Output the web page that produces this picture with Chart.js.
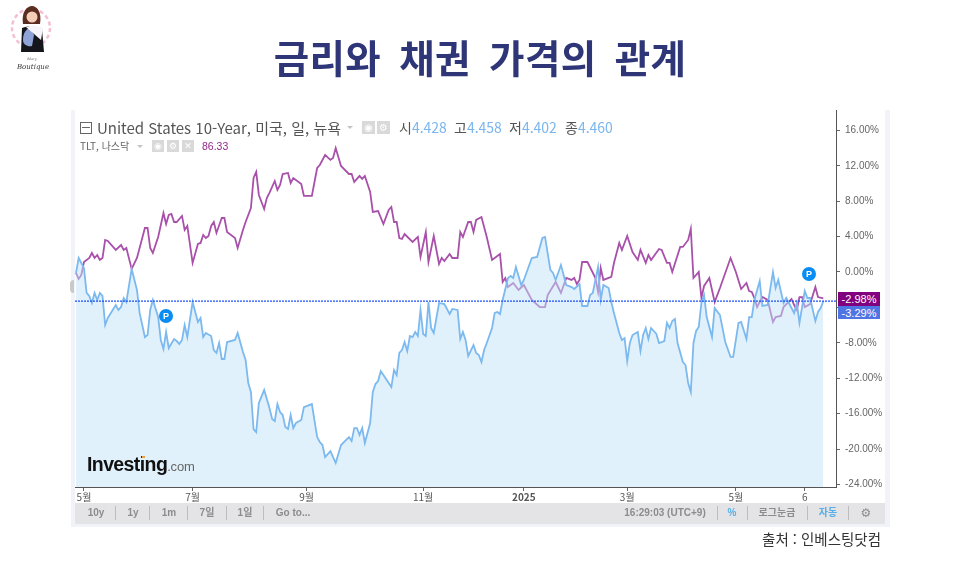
<!DOCTYPE html>
<html lang="ko">
<head>
<meta charset="utf-8">
<title>금리와 채권 가격의 관계</title>
<script src="https://cdn.jsdelivr.net/npm/chart.js@4"></script>
<style>
html,body{margin:0;padding:0;background:#fff;width:960px;height:580px;overflow:hidden;font-family:"Noto Sans CJK KR","Liberation Sans",sans-serif}
.a{position:absolute;white-space:nowrap}
#c{position:absolute;left:0;top:0}
.ico{position:absolute;background:#d9d9d9;color:#fff;text-align:center;font-family:"DejaVu Sans";line-height:1}
.tb{position:absolute;top:506px;font:bold 10px "Liberation Sans","Noto Sans CJK KR",sans-serif;color:#8c8c8c;line-height:14px;transform:translateX(-50%);white-space:nowrap}
.sp{position:absolute;top:506px;width:1px;height:14px;background:#bdbdbd}
</style>
</head>
<body>
<div class="a" style="left:71px;top:110px;width:819px;height:417px;background:#f2f3f8"></div>
<div class="a" style="left:75px;top:110px;width:810px;height:393px;background:#fff"></div>
<div class="a" style="left:75px;top:503px;width:810px;height:21px;background:#e4e4e6"></div>
<div class="a" style="left:70px;top:280px;width:4px;height:13px;background:#c9c9c9;border-radius:4px 0 0 4px"></div>
<canvas id="c" width="960" height="580"></canvas>

<div class="a" style="left:838px;top:488px;width:47px;height:15px;background:#fff"></div>

<div class="a" id="title" style="left:0;width:960px;top:27px;text-align:center;font-size:38.5px;font-weight:700;line-height:58px;color:#2f3678;word-spacing:7px;letter-spacing:.4px">금리와 채권 가격의 관계</div>

<svg class="a" style="left:6px;top:2px" width="52" height="72" viewBox="0 0 52 72">
<circle cx="25" cy="26" r="19" fill="none" stroke="#f4bfd2" stroke-width="2.5" stroke-dasharray="4 3"/>
<path d="M17 22c-2-12 4-18 9-18s10 6 8 18z" fill="#5a2d20"/>
<circle cx="26" cy="15" r="5.5" fill="#f4cdb8"/>
<path d="M15 50l1-24c3-1 6-2 9-2s9 1 11 3l2 23z" fill="#15151c"/>
<path d="M17 38c0-7 3-11 7-12l4 7-2 11c-4 1-9-1-9-6z" fill="#8ea4d8"/>
<path d="M20 25l8-2 9 3-2 12-7-6z" fill="#f6f6fa"/>
<text x="26" y="58" font-size="3.5" fill="#555" text-anchor="middle" font-family="DejaVu Serif" font-style="italic">Mary</text>
<text x="27" y="67" font-size="7" fill="#333" text-anchor="middle" font-family="DejaVu Serif" font-style="italic">Boutique</text>
</svg>

<div class="a" style="left:80px;top:122px;width:10px;height:10px;border:1px solid #666"></div>
<div class="a" style="left:82px;top:127px;width:8px;height:1px;background:#666"></div>
<div class="a" style="left:97px;top:118px;font-size:15px;line-height:19px;color:#555">United States 10-Year, 미국, 일, 뉴욕</div>
<div class="a" style="left:347px;top:126px;border:3px solid transparent;border-top-color:#c4c4c4"></div>
<div class="ico" style="left:362px;top:121px;width:13px;height:13px;font-size:10px;line-height:13px">◉</div>
<div class="ico" style="left:377px;top:121px;width:13px;height:13px;font-size:10px;line-height:13px">⚙</div>
<div class="a" style="left:399px;top:118px;font-size:14px;line-height:19px;color:#555">시<span style="color:#7ab6ee">4.428</span></div>
<div class="a" style="left:454px;top:118px;font-size:14px;line-height:19px;color:#555">고<span style="color:#7ab6ee">4.458</span></div>
<div class="a" style="left:509px;top:118px;font-size:14px;line-height:19px;color:#555">저<span style="color:#7ab6ee">4.402</span></div>
<div class="a" style="left:565px;top:118px;font-size:14px;line-height:19px;color:#555">종<span style="color:#7ab6ee">4.460</span></div>
<div class="a" style="left:80px;top:138px;font-size:10px;line-height:15px;color:#666">TLT, 나스닥</div>
<div class="a" style="left:137px;top:145px;border:3px solid transparent;border-top-color:#c4c4c4"></div>
<div class="ico" style="left:152px;top:140px;width:12px;height:12px;font-size:9px;line-height:12px">◉</div>
<div class="ico" style="left:167px;top:140px;width:12px;height:12px;font-size:9px;line-height:12px">⚙</div>
<div class="ico" style="left:182px;top:140px;width:12px;height:12px;font-size:9px;line-height:12px">✕</div>
<div class="a" style="left:202px;top:139px;font:10.5px/14px 'Liberation Sans';color:#93278f">86.33</div>

<div class="a" style="left:87px;top:452px;font:bold 19.5px/24px 'Liberation Sans';letter-spacing:-.6px;color:#111">Investing<span style="font-weight:400;font-size:13px;letter-spacing:-.2px;color:#666">.com</span></div>
<div class="a" style="left:142px;top:456px;width:3px;height:2px;background:#f0a040"></div>

<div class="a" style="left:838px;top:292px;width:42px;height:14px;background:#800080;color:#fff;font:11px/14px 'Liberation Sans';text-align:center">-2.98%</div>
<div class="a" style="left:838px;top:306px;width:42px;height:13px;background:#4f74e3;color:#fff;font:11px/14px 'Liberation Sans';text-align:center">-3.29%</div>

<div class="a" style="left:159px;top:309px;width:14px;height:14px;border-radius:50%;background:#0a8df2;color:#fff;font:bold 9px/14px 'Liberation Sans';text-align:center">P</div>
<div class="a" style="left:802px;top:267px;width:14px;height:14px;border-radius:50%;background:#0a8df2;color:#fff;font:bold 9px/14px 'Liberation Sans';text-align:center">P</div>

<div class="tb" style="left:96px">10y</div><div class="sp" style="left:115px"></div>
<div class="tb" style="left:133px">1y</div><div class="sp" style="left:149px"></div>
<div class="tb" style="left:169px">1m</div><div class="sp" style="left:187px"></div>
<div class="tb" style="left:207px">7일</div><div class="sp" style="left:226px"></div>
<div class="tb" style="left:245px">1일</div><div class="sp" style="left:263px"></div>
<div class="tb" style="left:293px">Go to...</div>
<div class="tb" style="left:665px">16:29:03 (UTC+9)</div><div class="sp" style="left:717px"></div>
<div class="tb" style="left:732px;color:#58aee6">%</div><div class="sp" style="left:747px"></div>
<div class="tb" style="left:777px">로그눈금</div><div class="sp" style="left:807px"></div>
<div class="tb" style="left:828px;color:#58aee6">자동</div><div class="sp" style="left:848px"></div>
<div class="tb" style="left:866px;font:12px/14px 'DejaVu Sans'">⚙</div>

<div class="a" style="right:79px;top:529px;font-size:14.5px;line-height:20px;color:#333">출처 : 인베스팅닷컴</div>

<script>
// x axis: trading sessions counted from the first bar; y axis: % change
const tickSessions = [3, 44, 87, 131, 169, 208, 249, 275];
const tickLabels = ["5월", "7월", "9월", "11월", "2025", "3월", "5월", "6"];
const yTicks = [16, 12, 8, 4, 0, -4, -8, -12, -16, -20, -24];
const lastYield = -3.29;
const lastTlt = -2.98;

const tltSessions = [0,1,2,3,5,6,7,8,9,10,11,12,15,17,18,19,21,23,26,27,28,29,31,33,34,35,36,37,38,40,41,42,44,46,47,48,49,50,51,52,53,55,56,57,60,61,63,64,66,67,68,69,71,72,73,75,76,77,78,80,81,82,85,86,89,91,92,94,96,97,98,100,103,104,105,107,108,109,111,112,114,116,118,119,120,121,122,123,124,127,129,130,132,133,135,137,138,139,141,142,144,145,146,148,149,150,151,153,154,155,157,160,161,162,163,165,167,169,172,175,177,178,181,183,185,187,188,189,190,191,193,196,197,198,199,202,203,205,206,208,210,212,213,215,216,217,220,221,223,224,225,228,229,231,232,233,235,236,237,239,241,243,247,249,251,253,254,255,256,257,259,261,263,264,266,267,270,271,272,273,274,275,277,279,280,282];
const tltChange = [-0.11,-0.79,-0.34,1.13,1.58,2.15,1.58,1.92,1.36,1.58,3.62,3.5,2.49,3.05,2.49,2.71,0.34,1.58,4.97,4.97,2.71,2.15,3.96,6.67,5.42,6.44,6.55,5.65,5.65,6.33,4.75,5.2,1.02,3.16,3.28,4.18,3.84,4.07,5.2,5.65,4.41,6.1,6.1,4.52,3.84,2.71,4.75,5.65,7.23,10.62,11.3,8.7,7.12,8.36,8.93,10.28,9.27,9.83,11.07,11.19,10.06,10.62,9.94,8.59,8.59,11.75,12.09,13.22,12.66,12.88,14.01,11.98,11.07,11.07,10.17,10.85,10.51,10.85,9.04,6.78,6.89,5.42,7.0,7.35,5.65,5.65,3.84,3.73,4.29,3.39,3.96,1.7,4.52,1.13,4.07,0.9,1.58,1.24,2.03,1.58,1.58,4.52,3.96,5.65,5.65,4.52,5.88,6.21,5.09,3.96,1.36,2.03,-1.13,-0.68,-1.7,-1.24,-2.03,-1.47,-3.16,-3.96,-3.96,-2.6,-1.13,-2.37,-0.68,-0.9,-0.68,-1.36,-0.9,1.13,1.13,-0.68,-2.26,0.45,-0.9,-0.56,1.02,3.28,2.49,4.07,2.26,1.36,2.49,1.02,1.92,1.36,2.6,2.49,1.02,1.02,0,2.83,2.83,3.62,4.86,-0.68,0,-2.94,-1.58,-0.68,-3.39,-1.81,1.58,0,-1.92,-1.24,-2.15,-2.26,-2.94,-3.96,-2.83,-3.16,-5.65,-5.09,-4.97,-3.96,-3.05,-3.73,-4.29,-2.83,-2.83,-3.96,-3.62,-1.7,-2.83,lastTlt];

const yieldSessions = [0,1,3,4,5,6,7,8,9,10,11,12,15,16,17,18,19,21,23,24,26,27,28,29,31,32,33,34,35,37,38,39,40,41,42,44,46,47,48,49,51,52,53,54,55,56,57,60,61,63,64,65,66,67,68,69,71,73,74,75,76,77,78,79,80,81,82,83,85,86,89,91,92,93,94,96,98,100,103,104,105,106,107,108,109,111,112,113,114,115,116,118,119,120,121,122,123,124,125,126,127,128,129,130,131,132,133,134,135,137,139,141,142,144,145,146,147,148,150,151,152,153,154,155,157,158,159,160,161,163,164,165,166,168,169,172,174,176,177,179,180,181,183,185,187,188,190,191,193,194,195,197,198,199,201,202,203,205,206,207,208,209,210,212,213,214,215,216,217,219,220,222,223,224,225,226,227,229,230,231,232,233,234,235,236,237,238,240,241,243,245,247,248,250,251,253,254,255,256,258,259,261,263,264,265,267,268,271,272,273,275,276,277,279,280,281,282];
const yieldChange = [-0.11,1.58,0.45,-2.37,-2.71,-3.5,-2.37,-3.16,-2.37,-2.71,-5.99,-5.2,-3.73,-4.29,-3.96,-2.94,-3.39,0.34,-2.03,-4.63,-7.35,-7.12,-4.29,-3.16,-5.09,-7.68,-8.7,-6.78,-8.59,-7.57,-7.8,-8.14,-7.68,-5.99,-7.35,-3.39,-5.65,-5.2,-7.35,-6.89,-7.23,-8.81,-9.15,-8.02,-9.83,-9.83,-7.91,-7.68,-6.89,-9.04,-9.94,-12.54,-13.56,-17.74,-18.08,-14.8,-13.34,-15.37,-16.61,-16.84,-14.92,-15.82,-16.16,-17.52,-17.74,-16.16,-17.63,-17.06,-16.72,-15.26,-14.92,-18.65,-19.21,-19.55,-20.9,-20.23,-21.58,-19.55,-18.65,-19.1,-17.63,-17.63,-18.42,-17.63,-19.32,-17.06,-13.56,-12.66,-12.32,-11.19,-11.64,-12.54,-13.0,-11.07,-11.64,-9.15,-8.81,-7.91,-8.93,-7.23,-7.35,-6.78,-7.23,-4.29,-7.0,-7.23,-3.39,-6.33,-6.89,-3.5,-3.62,-4.75,-4.18,-4.29,-7.57,-6.78,-7.68,-9.49,-8.25,-9.15,-9.38,-10.17,-8.81,-8.02,-6.33,-4.63,-4.52,-4.75,-3.16,-0.68,-0.45,-0.68,0.57,-1.47,-0.9,1.58,1.7,3.84,3.96,0.23,-0.11,-0.9,0.79,-1.47,-1.7,-1.92,-1.36,-3.84,-3.84,-2.6,-2.37,0.57,-3.16,-1.47,-1.81,-3.39,-4.63,-6.89,-7.68,-7.46,-10.06,-8.02,-7.12,-6.78,-8.93,-7.12,-6.33,-7.57,-6.33,-7.0,-8.02,-7.8,-5.76,-6.33,-5.54,-5.31,-8.02,-10.17,-10.51,-12.54,-13.56,-8.02,-6.66,-6.21,-3.5,-2.6,-5.09,-7.35,-4.07,-4.86,-7.91,-9.6,-9.6,-5.76,-5.65,-7.57,-5.09,-5.09,-3.16,-1.02,-3.84,-3.73,0,-1.81,-0.9,-3.5,-2.94,-4.63,-3.5,-5.76,-2.15,-2.94,-2.94,-5.54,-4.52,-4.07,lastYield];

const toPoints = (xs, ys) => xs.map((x, i) => ({ x, y: ys[i] }));

new Chart(document.getElementById('c'), {
  type: 'line',
  data: {
    datasets: [
      { label: '10-Year', data: [{ x: -0.38, y: lastYield }, { x: 286.79, y: lastYield }],
        borderColor: '#1f50f5', borderWidth: 1.2, borderDash: [2, 1], pointRadius: 0, order: 0 },
      { label: 'United States 10-Year', data: toPoints(yieldSessions, yieldChange),
        borderColor: '#7cb9ef', borderWidth: 1.8, pointRadius: 0, tension: 0, order: 1,
        fill: 'start', backgroundColor: 'rgba(193,227,247,0.5)' },
      { label: 'TLT', data: toPoints(tltSessions, tltChange),
        borderColor: '#a850aa', borderWidth: 1.8, pointRadius: 0, tension: 0, order: 2 }
    ]
  },
  options: {
    responsive: false,
    animation: false,
    layout: { padding: { left: 75, top: 110, right: 70, bottom: 77 } },
    plugins: { legend: { display: false }, title: { display: false }, tooltip: { enabled: false } },
    scales: {
      x: {
        type: 'linear', min: -0.38, max: 286.79,
        afterBuildTicks: a => { a.ticks = tickSessions.map(v => ({ value: v })); },
        afterFit: a => { a.height = 16; },
        grid: { drawOnChartArea: false, tickLength: 4, color: '#666' },
        border: { color: '#555', width: 1 },
        ticks: {
          autoSkip: false, maxRotation: 0, padding: 0, color: '#555',
          font: c => ({ family: '"Noto Sans CJK KR","Liberation Sans"', size: 10, weight: c.index === 4 ? 'bold' : 'normal' }),
          callback: (v, i) => tickLabels[i]
        }
      },
      y: {
        position: 'right', min: -24.29, max: 18.3,
        afterBuildTicks: a => { a.ticks = yTicks.map(v => ({ value: v })); },
        afterFit: a => { a.width = 54; },
        grid: { drawOnChartArea: false, tickLength: 4, color: '#666' },
        border: { color: '#555', width: 1 },
        ticks: {
          autoSkip: false, padding: 5, color: '#666',
          font: { family: '"Liberation Sans"', size: 10 },
          callback: v => v.toFixed(2) + '%'
        }
      }
    }
  }
});
</script>
</body>
</html>
